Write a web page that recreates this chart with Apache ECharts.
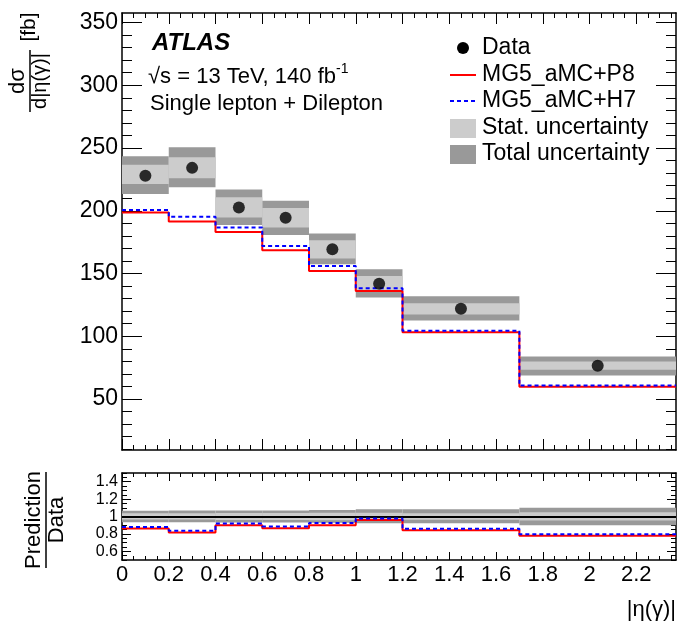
<!DOCTYPE html>
<html>
<head>
<meta charset="utf-8">
<script src="https://cdn.jsdelivr.net/npm/echarts@6/dist/echarts.min.js"></script>
<style>
  html, body { margin: 0; padding: 0; background: #fff; }
  #chart { width: 677px; height: 626px; }
</style>
</head>
<body>
<div id="chart"></div>
<script>
// bins of |eta(gamma)|
const binEdges = [0, 0.2, 0.4, 0.6, 0.8, 1.0, 1.2, 1.7, 2.37];
const binCenters = [0.1, 0.3, 0.5, 0.7, 0.9, 1.1, 1.45, 2.035];

// top panel, d sigma / d|eta| [fb]
const dataVals = [228, 234.2, 202.7, 194.4, 169.3, 141.8, 121.9, 76.5];
const statLo = [221.4, 225.9, 194.7, 186.7, 161.9, 136, 117.3, 73.3];
const statHi = [236.6, 242.7, 210.7, 202.2, 176.5, 148, 126.4, 80];
const totLo = [213.4, 218.7, 188.6, 180.8, 157.4, 131, 112.5, 68.8];
const totHi = [243.4, 250.7, 217, 208, 181.9, 153.4, 132, 84];
const predP8 = [198.7, 191.5, 183.2, 168.5, 152, 136, 103.2, 59.8];
const predH7 = [200.6, 195.2, 186.7, 172, 156, 138.2, 104.5, 60.8];

// ratio panel, prediction / data
const ratioP8 = [0.862, 0.815, 0.9, 0.866, 0.9, 0.96, 0.843, 0.78];
const ratioH7 = [0.878, 0.835, 0.92, 0.886, 0.925, 0.976, 0.86, 0.795];
const ratioStatLo = [0.965, 0.965, 0.96, 0.96, 0.956, 0.958, 0.962, 0.955];
const ratioStatHi = [1.037, 1.037, 1.04, 1.04, 1.043, 1.044, 1.038, 1.05];
const ratioTotLo = [0.935, 0.934, 0.93, 0.93, 0.928, 0.922, 0.922, 0.9];
const ratioTotHi = [1.067, 1.07, 1.07, 1.07, 1.074, 1.082, 1.083, 1.1];

// tick labels
const xLabels = [0, 0.2, 0.4, 0.6, 0.8, 1, 1.2, 1.4, 1.6, 1.8, 2, 2.2];
const yLabels = [50, 100, 150, 200, 250, 300, 350];
const ratioLabels = [0.6, 0.8, 1, 1.2, 1.4];

const FONT = '"Liberation Sans", Arial, Helvetica, sans-serif';
const LIGHT = '#cccccc';
const DARK = '#999999';

function minorTicks(from, to, step) {
  const out = [];
  for (let v = from; v <= to + 1e-9; v += step) out.push(+v.toFixed(4));
  return out;
}
const xMinor = minorTicks(0, 2.35, 0.05);
const yMinor = minorTicks(10, 350, 10);
const rMinor = minorTicks(0.5, 1.5, 0.05);

function stepData(vals) {
  const pts = vals.map((v, i) => [binEdges[i], v]);
  pts.push([binEdges[binEdges.length - 1], vals[vals.length - 1]]);
  return pts;
}
function bandData(lo, hi) {
  return lo.map((v, i) => [binEdges[i], binEdges[i + 1], v, hi[i]]);
}
function bandItem(color) {
  return function (params, api) {
    const p0 = api.coord([api.value(0), api.value(3)]);
    const p1 = api.coord([api.value(1), api.value(2)]);
    return {
      type: 'rect',
      shape: { x: p0[0], y: p0[1], width: p1[0] - p0[0], height: p1[1] - p0[1] },
      style: { fill: color }
    };
  };
}

const lineStyle = { color: '#000', width: 1.5 };

function xAxis(gridIndex, position, ticks, len, labels, showLine) {
  return {
    type: 'value', gridIndex, position, min: 0, max: 2.37,
    axisLine: { show: showLine, onZero: false, lineStyle },
    axisTick: { show: true, inside: true, length: len, customValues: ticks, lineStyle: { color: '#000', width: 1 } },
    axisLabel: labels
      ? { show: true, customValues: labels, fontSize: 22, color: '#000', fontFamily: FONT, margin: 4 }
      : { show: false },
    splitLine: { show: false }
  };
}
function yAxis(gridIndex, position, min, max, ticks, len, labels, fontSize, showLine) {
  return {
    type: 'value', gridIndex, position, min, max,
    axisLine: { show: showLine, onZero: false, lineStyle },
    axisTick: { show: true, inside: true, length: len, customValues: ticks, lineStyle: { color: '#000', width: 1 } },
    axisLabel: labels
      ? { show: true, customValues: labels, fontSize, color: '#000', fontFamily: FONT, margin: 4 }
      : { show: false },
    splitLine: { show: false }
  };
}

const chart = echarts.init(document.getElementById('chart'), null, { renderer: 'canvas' });

const option = {
  animation: false,
  backgroundColor: '#fff',
  grid: [
    { left: 122, top: 13, width: 554, height: 437 },
    { left: 122, top: 473, width: 554, height: 87 }
  ],
  xAxis: [
    xAxis(0, 'bottom', xLabels, 11, null, true),
    xAxis(0, 'bottom', xMinor, 5, null, false),
    xAxis(0, 'top', xLabels, 11, null, true),
    xAxis(0, 'top', xMinor, 5, null, false),
    xAxis(1, 'bottom', xLabels, 8, xLabels, true),
    xAxis(1, 'bottom', xMinor, 4, null, false),
    xAxis(1, 'top', xLabels, 8, null, true),
    xAxis(1, 'top', xMinor, 4, null, false)
  ],
  yAxis: [
    yAxis(0, 'left', 9.4, 357.6, yLabels, 20, yLabels, 23, true),
    yAxis(0, 'left', 9.4, 357.6, yMinor, 10, null, 0, false),
    yAxis(0, 'right', 9.4, 357.6, yLabels, 20, null, 0, true),
    yAxis(0, 'right', 9.4, 357.6, yMinor, 10, null, 0, false),
    yAxis(1, 'left', 0.5, 1.5, ratioLabels, 9, ratioLabels, 16, true),
    yAxis(1, 'left', 0.5, 1.5, rMinor, 5, null, 0, false),
    yAxis(1, 'right', 0.5, 1.5, ratioLabels, 9, null, 0, true),
    yAxis(1, 'right', 0.5, 1.5, rMinor, 5, null, 0, false)
  ],
  series: [
    {
      name: 'Total uncertainty', type: 'custom', xAxisIndex: 0, yAxisIndex: 0,
      renderItem: bandItem(DARK), data: bandData(totLo, totHi),
      encode: { x: [0, 1], y: [2, 3] }, z: 1
    },
    {
      name: 'Stat. uncertainty', type: 'custom', xAxisIndex: 0, yAxisIndex: 0,
      renderItem: bandItem(LIGHT), data: bandData(statLo, statHi),
      encode: { x: [0, 1], y: [2, 3] }, z: 2
    },
    {
      name: 'MG5_aMC+P8', type: 'line', step: 'end', xAxisIndex: 0, yAxisIndex: 0,
      data: stepData(predP8), symbol: 'none',
      lineStyle: { color: '#ff0000', width: 2 }, z: 3
    },
    {
      name: 'MG5_aMC+H7', type: 'line', step: 'end', xAxisIndex: 0, yAxisIndex: 0,
      data: stepData(predH7), symbol: 'none',
      lineStyle: { color: '#0000ff', width: 2, type: [4, 3] }, z: 4
    },
    {
      name: 'Data', type: 'scatter', xAxisIndex: 0, yAxisIndex: 0,
      data: binCenters.map((x, i) => [x, dataVals[i]]),
      symbol: 'circle', symbolSize: 12, itemStyle: { color: '#000' }, z: 5
    },
    {
      type: 'custom', xAxisIndex: 4, yAxisIndex: 4,
      renderItem: bandItem(DARK), data: bandData(ratioTotLo, ratioTotHi),
      encode: { x: [0, 1], y: [2, 3] }, z: 1
    },
    {
      type: 'custom', xAxisIndex: 4, yAxisIndex: 4,
      renderItem: bandItem(LIGHT), data: bandData(ratioStatLo, ratioStatHi),
      encode: { x: [0, 1], y: [2, 3] }, z: 2
    },
    {
      type: 'line', step: 'end', xAxisIndex: 4, yAxisIndex: 4,
      data: stepData(ratioP8), symbol: 'none',
      lineStyle: { color: '#ff0000', width: 2 }, z: 4,
      markLine: {
        silent: true, symbol: 'none', label: { show: false },
        lineStyle: { color: '#000', width: 2, type: 'solid' },
        data: [{ yAxis: 1 }]
      }
    },
    {
      type: 'line', step: 'end', xAxisIndex: 4, yAxisIndex: 4,
      data: stepData(ratioH7), symbol: 'none',
      lineStyle: { color: '#0000ff', width: 2, type: [4, 3] }, z: 5
    }
  ],
  graphic: [
    // ATLAS label
    { type: 'text', x: 152, y: 43, style: { text: 'ATLAS', fontSize: 24, fontWeight: 'bold', fontStyle: 'italic', fontFamily: FONT, fill: '#000', align: 'left', verticalAlign: 'middle' } },
    {
      type: 'text', x: 148, y: 75,
      style: {
        text: '{n|√s = 13 TeV, 140 fb}{s|-1}', align: 'left', verticalAlign: 'middle', fill: '#000',
        rich: {
          n: { fontSize: 22, fontFamily: FONT, fill: '#000', lineHeight: 26, verticalAlign: 'bottom' },
          s: { fontSize: 14, fontFamily: FONT, fill: '#000', lineHeight: 26, verticalAlign: 'top' }
        }
      }
    },
    { type: 'text', x: 150, y: 104, style: { text: 'Single lepton + Dilepton', fontSize: 22, fontFamily: FONT, fill: '#000', align: 'left', verticalAlign: 'middle' } },

    // legend
    { type: 'circle', shape: { cx: 463, cy: 48, r: 6 }, style: { fill: '#000' } },
    { type: 'line', shape: { x1: 450, y1: 75, x2: 476, y2: 75 }, style: { stroke: '#ff0000', lineWidth: 2 } },
    { type: 'line', shape: { x1: 450, y1: 101, x2: 476, y2: 101 }, style: { stroke: '#0000ff', lineWidth: 2, lineDash: [4, 3] } },
    { type: 'rect', shape: { x: 450, y: 119, width: 26, height: 19 }, style: { fill: LIGHT } },
    { type: 'rect', shape: { x: 450, y: 145, width: 26, height: 19 }, style: { fill: DARK } },
    { type: 'text', x: 482, y: 48, style: { text: 'Data', fontSize: 23, fontFamily: FONT, fill: '#000', align: 'left', verticalAlign: 'middle' } },
    { type: 'text', x: 482, y: 75, style: { text: 'MG5_aMC+P8', fontSize: 23, fontFamily: FONT, fill: '#000', align: 'left', verticalAlign: 'middle' } },
    { type: 'text', x: 482, y: 101, style: { text: 'MG5_aMC+H7', fontSize: 23, fontFamily: FONT, fill: '#000', align: 'left', verticalAlign: 'middle' } },
    { type: 'text', x: 482, y: 128, style: { text: 'Stat. uncertainty', fontSize: 23, fontFamily: FONT, fill: '#000', align: 'left', verticalAlign: 'middle' } },
    { type: 'text', x: 482, y: 154, style: { text: 'Total uncertainty', fontSize: 23, fontFamily: FONT, fill: '#000', align: 'left', verticalAlign: 'middle' } },

    // y title, top panel
    { type: 'text', x: 18, y: 81, rotation: Math.PI / 2, style: { text: 'dσ', fontSize: 22, fontFamily: FONT, fill: '#000', align: 'center', verticalAlign: 'middle' } },
    { type: 'line', shape: { x1: 30, y1: 50, x2: 30, y2: 112 }, style: { stroke: '#000', lineWidth: 1.5 } },
    { type: 'text', x: 40, y: 81, rotation: Math.PI / 2, style: { text: 'd|η(γ)|', fontSize: 20, fontFamily: FONT, fill: '#000', align: 'center', verticalAlign: 'middle' } },
    { type: 'text', x: 29, y: 27, rotation: Math.PI / 2, style: { text: '[fb]', fontSize: 21, fontFamily: FONT, fill: '#000', align: 'center', verticalAlign: 'middle' } },

    // y title, ratio panel
    { type: 'text', x: 34, y: 520, rotation: Math.PI / 2, style: { text: 'Prediction', fontSize: 22, fontFamily: FONT, fill: '#000', align: 'center', verticalAlign: 'middle' } },
    { type: 'line', shape: { x1: 46, y1: 472, x2: 46, y2: 568 }, style: { stroke: '#000', lineWidth: 1.5 } },
    { type: 'text', x: 57, y: 520, rotation: Math.PI / 2, style: { text: 'Data', fontSize: 22, fontFamily: FONT, fill: '#000', align: 'center', verticalAlign: 'middle' } },

    // x title
    { type: 'text', x: 676, y: 610, style: { text: '|η(γ)|', fontSize: 22, fontFamily: FONT, fill: '#000', align: 'right', verticalAlign: 'middle' } }
  ]
};

chart.setOption(option);
</script>
</body>
</html>
